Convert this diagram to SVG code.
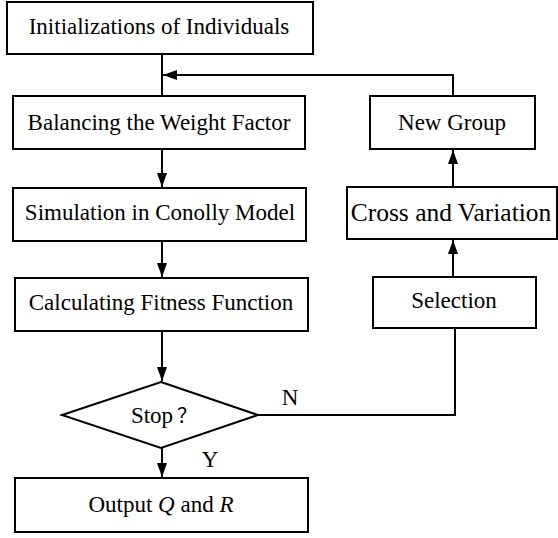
<svg xmlns="http://www.w3.org/2000/svg" width="558" height="538" viewBox="0 0 558 538">
<defs>
<style>
.box{fill:#fff;stroke:#000;stroke-width:2}
.t{font-family:'Liberation Serif','Times New Roman','DejaVu Serif',serif;font-size:23px;fill:#000;text-anchor:middle}
.c{fill:none;stroke:#000;stroke-width:2}
</style>
<marker id="ah" viewBox="0 0 14 10" refX="14" refY="5" markerWidth="14" markerHeight="10" markerUnits="userSpaceOnUse" orient="auto">
<path d="M0,0 L14,5 L0,10 z" fill="#000"/>
</marker>
</defs>
<rect width="558" height="538" fill="#fff"/>
<g id="connectors">
<path class="c" d="M162,54 V96"/>
<path class="c" d="M453,96 V75 H163" marker-end="url(#ah)"/>
<path class="c" d="M162,149 V187" marker-end="url(#ah)"/>
<path class="c" d="M162,241 V277" marker-end="url(#ah)"/>
<path class="c" d="M162,331 V381" marker-end="url(#ah)"/>
<path class="c" d="M162,448 V477" marker-end="url(#ah)"/>
<path class="c" d="M258,415 H455 V328"/>
<path class="c" d="M453,277 V240" marker-end="url(#ah)"/>
<path class="c" d="M453,187 V150" marker-end="url(#ah)"/>
</g>
<g id="init"><rect class="box" x="7" y="2" width="306" height="52"/><text class="t" x="159" y="34">Initializations of Individuals</text></g>
<g id="balance"><rect class="box" x="13" y="96" width="292" height="53"/><text class="t" x="159" y="130">Balancing the Weight Factor</text></g>
<g id="simulation"><rect class="box" x="13" y="188" width="293" height="53"/><text class="t" x="160" y="220">Simulation in Conolly Model</text></g>
<g id="fitness"><rect class="box" x="15" y="278" width="293" height="53"/><text class="t" x="161" y="310">Calculating Fitness Function</text></g>
<g id="stop"><polygon class="box" points="161,382 258,415 161,448 62,415"/><text class="t" x="164" y="423">Stop<tspan dx="4" style="font-family:'Noto Sans CJK SC',sans-serif;font-size:20px">？</tspan></text></g>
<g id="output"><rect class="box" x="15" y="478" width="293" height="54"/><text class="t" x="161" y="512">Output <tspan font-style="italic">Q</tspan> and <tspan font-style="italic">R</tspan></text></g>
<g id="selection"><rect class="box" x="373" y="277" width="163" height="51"/><text class="t" x="454" y="308">Selection</text></g>
<g id="cross"><rect class="box" x="347" y="187" width="210" height="52"/><text class="t" x="451" y="221" style="font-size:25.5px">Cross and Variation</text></g>
<g id="newgroup"><rect class="box" x="370" y="96" width="165" height="53"/><text class="t" x="452" y="130">New Group</text></g>
<g id="labels"><text class="t" x="290" y="405">N</text><text class="t" x="210" y="467">Y</text></g>
</svg>
